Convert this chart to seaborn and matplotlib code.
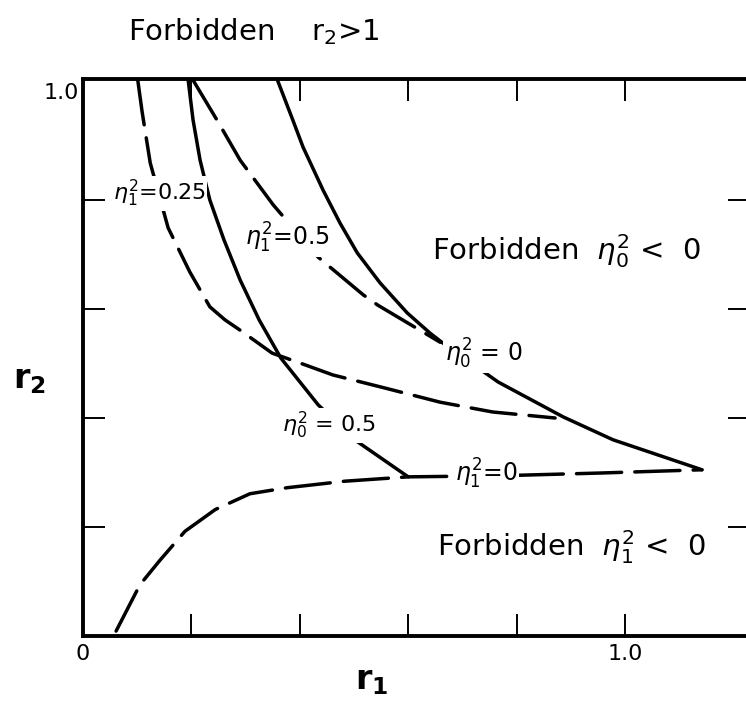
import matplotlib
matplotlib.use("Agg")
import matplotlib.pyplot as plt
import numpy as np
import pandas as pd
import seaborn as sns

# ---- curve data (r1, r2) ----
eta0_0_r1 = [0.358, 0.387, 0.406, 0.443, 0.474, 0.506, 0.548, 0.598, 0.640, 0.662, 0.766, 0.886, 0.978, 1.142]
eta0_0_r2 = [1.022, 0.947, 0.897, 0.818, 0.758, 0.703, 0.648, 0.593, 0.556, 0.539, 0.466, 0.402, 0.360, 0.305]

eta0_05_r1 = [0.194, 0.203, 0.216, 0.234, 0.260, 0.290, 0.325, 0.365, 0.434, 0.507, 0.600]
eta0_05_r2 = [1.020, 0.947, 0.873, 0.800, 0.727, 0.653, 0.580, 0.510, 0.424, 0.356, 0.292]

eta1_05_r1 = [0.203, 0.247, 0.290, 0.351, 0.434, 0.517, 0.544, 0.659]
eta1_05_r2 = [1.020, 0.947, 0.873, 0.791, 0.695, 0.626, 0.607, 0.539]

eta1_025_r1 = [0.101, 0.109, 0.124, 0.157, 0.197, 0.234, 0.262, 0.290, 0.349, 0.400, 0.461, 0.557, 0.659, 0.756, 0.871]
eta1_025_r2 = [1.020, 0.962, 0.868, 0.749, 0.668, 0.604, 0.580, 0.561, 0.519, 0.501, 0.479, 0.455, 0.429, 0.411, 0.400]

eta1_0_r1 = [0.061, 0.105, 0.142, 0.188, 0.244, 0.308, 0.376, 0.483, 0.600, 0.769, 0.954, 1.142]
eta1_0_r2 = [0.009, 0.094, 0.139, 0.192, 0.232, 0.261, 0.272, 0.284, 0.292, 0.294, 0.299, 0.305]

x_ticks = [0.0, 0.2, 0.4, 0.6, 0.8, 1.0]
x_tick_labels = ["0", "", "", "", "", "1.0"]
y_ticks = [0.2, 0.4, 0.6, 0.8, 1.0]
y_tick_labels = ["", "", "", "", "1.0"]

sns.set_style("ticks")
plt.rcParams["font.family"] = ["DejaVu Sans"]
plt.rcParams["mathtext.fontset"] = "dejavusans"
plt.rcParams["text.color"] = "black"
plt.rcParams["axes.labelcolor"] = "black"
plt.rcParams["xtick.color"] = "black"
plt.rcParams["ytick.color"] = "black"

fig = plt.figure(figsize=(7.46, 7.05), dpi=100)
ax = fig.add_axes([0.1113, 0.0979, 0.894, 0.790])

LW = 2.5
DASH = (0, (13, 3.8))

curves = [
    (eta0_0_r1, eta0_0_r2, "-"),
    (eta0_05_r1, eta0_05_r2, "-"),
    (eta1_05_r1, eta1_05_r2, DASH),
    (eta1_025_r1, eta1_025_r2, DASH),
    (eta1_0_r1, eta1_0_r2, DASH),
]
for xs, ys, ls in curves:
    df = pd.DataFrame({"r1": xs, "r2": ys})
    sns.lineplot(data=df, x="r1", y="r2", ax=ax, color="black", linewidth=LW,
                 sort=False, estimator=None, linestyle=ls)
    ax.lines[-1].set_solid_capstyle("round")
    ax.lines[-1].set_dash_capstyle("round")
    ax.lines[-1].set_solid_joinstyle("round")

ax.set_xlim(0, 1.2306)
ax.set_ylim(0, 1.022)

for side in ["left", "right", "top", "bottom"]:
    ax.spines[side].set_linewidth(2.8)
    ax.spines[side].set_color("black")

ax.set_xticks(x_ticks)
ax.set_xticklabels(x_tick_labels)
ax.set_yticks(y_ticks)
ax.set_yticklabels(y_tick_labels)
ax.tick_params(axis="both", direction="in", length=16, width=1.4,
               top=True, right=True, labelsize=16, colors="black")
ax.tick_params(axis="x", pad=6)
ax.tick_params(axis="y", pad=3)
# no tick marks at the origin or at r2 = 1.0
for t in [ax.xaxis.get_major_ticks()[0], ax.yaxis.get_major_ticks()[-1]]:
    t.tick1line.set_visible(False)
    t.tick2line.set_visible(False)

ax.set_xlabel(r"$\mathbf{r_1}$", fontsize=24)
ax.set_ylabel(r"$\mathbf{r_2}$", fontsize=24, rotation=0)
ax.xaxis.set_label_coords(0.433, -0.08)
ax.yaxis.set_label_coords(-0.08, 0.46)
ax.xaxis.label.set_va("center")
ax.yaxis.label.set_va("center")

# curve labels
box = dict(facecolor="white", edgecolor="none", pad=1.5)
lab_fs = 16
ax.text(0.055, 0.800, r"$\eta_1^2$=0.25", fontsize=lab_fs, va="baseline", ha="left", bbox=box)
ax.text(0.299, 0.717, r"$\eta_1^2$=0.5", fontsize=lab_fs + 1, va="baseline", ha="left", bbox=box)
ax.text(0.668, 0.503, r"$\eta_0^2$ = 0", fontsize=lab_fs + 1, va="baseline", ha="left", bbox=box)
ax.text(0.367, 0.374, r"$\eta_0^2$ = 0.5", fontsize=lab_fs, va="baseline", ha="left", bbox=box)
ax.text(0.686, 0.283, r"$\eta_1^2$=0", fontsize=lab_fs + 1, va="baseline", ha="left", bbox=box)

# forbidden regions
ax.text(0.644, 0.690, r"Forbidden  $\eta_0^2$ <  0", fontsize=21, va="baseline", ha="left")
ax.text(0.653, 0.147, r"Forbidden  $\eta_1^2$ <  0", fontsize=21, va="baseline", ha="left")
fig.text(128 / 746, 0.943, r"Forbidden    r$_2$>1", fontsize=21, va="baseline", ha="left")

fig.savefig("out.png", dpi=100)
